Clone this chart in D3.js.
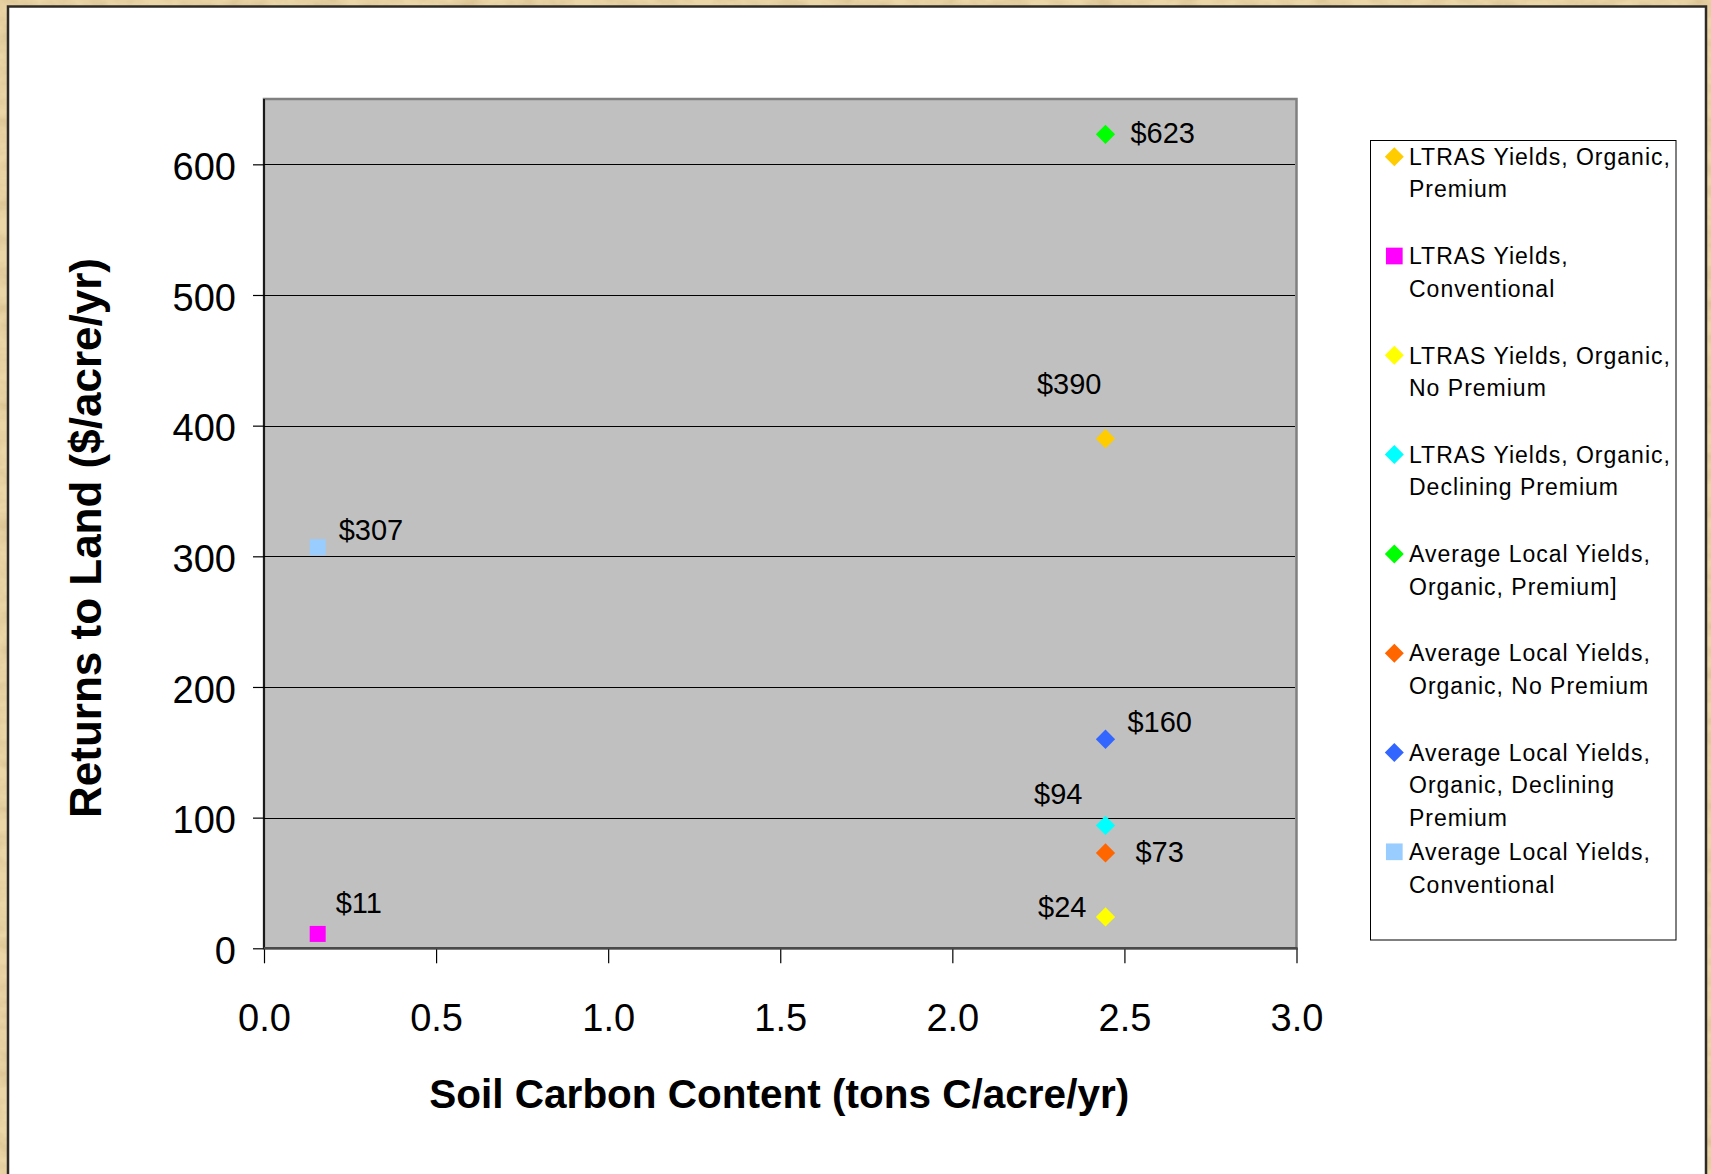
<!DOCTYPE html>
<html>
<head>
<meta charset="utf-8">
<script src="https://cdn.jsdelivr.net/npm/d3@7"></script>
<style>
  html, body { margin: 0; padding: 0; background: #e9d6ab; overflow: hidden; }
  svg { display: block; }
  text { font-family: "Liberation Sans", Arial, sans-serif; fill: #000; }
</style>
</head>
<body>
<svg id="chart" width="1711" height="1174"></svg>
<script>
// Scenario names (legend order), split into the lines shown in the legend
const seriesLines = [
  ["LTRAS Yields, Organic,", "Premium"],
  ["LTRAS Yields,", "Conventional"],
  ["LTRAS Yields, Organic,", "No Premium"],
  ["LTRAS Yields, Organic,", "Declining Premium"],
  ["Average Local Yields,", "Organic, Premium]"],
  ["Average Local Yields,", "Organic, No Premium"],
  ["Average Local Yields,", "Organic, Declining", "Premium"],
  ["Average Local Yields,", "Conventional"]
];
// Soil carbon content (tons C/acre/yr)
const carbonValues = [2.445, 0.156, 2.445, 2.445, 2.445, 2.445, 2.445, 0.156];
// Returns to land ($/acre/yr)
const returnValues = [390, 11, 24, 94, 623, 73, 160, 307];
const markerShapes = ["diamond", "square", "diamond", "diamond", "diamond", "diamond", "diamond", "square"];
const markerColors = ["#FFCC00", "#FF00FF", "#FFFF00", "#00FFFF", "#00FF00", "#FF6600", "#3366FF", "#99CCFF"];
const xTickValues = [0, 0.5, 1.0, 1.5, 2.0, 2.5, 3.0];
const yTickValues = [0, 100, 200, 300, 400, 500, 600];

// Where each data label sits relative to its marker
const labelPlacement = [
  { anchor: "end",   dx: -4,  dy: -55 },
  { anchor: "start", dx: 18,  dy: -31 },
  { anchor: "end",   dx: -19, dy: -10 },
  { anchor: "end",   dx: -23, dy: -32 },
  { anchor: "start", dx: 25,  dy: -2 },
  { anchor: "start", dx: 30,  dy: -1 },
  { anchor: "start", dx: 22,  dy: -18 },
  { anchor: "start", dx: 21,  dy: -18 }
];

const svg = d3.select("#chart");
const W = 1711, H = 1174;

// Parchment backdrop
const defs = svg.append("defs");
const f = defs.append("filter").attr("id", "parchment")
  .attr("x", 0).attr("y", 0).attr("width", "100%").attr("height", "100%");
f.append("feTurbulence").attr("type", "fractalNoise")
  .attr("baseFrequency", "0.035 0.06").attr("numOctaves", 4).attr("seed", 7).attr("result", "noise");
f.append("feColorMatrix").attr("in", "noise").attr("type", "matrix")
  .attr("values", "0 0 0 0 0.62  0 0 0 0 0.45  0 0 0 0 0.22  1.6 0 0 0 -0.6")
  .attr("result", "tint");
f.append("feComposite").attr("in", "tint").attr("in2", "SourceGraphic").attr("operator", "over");

svg.append("rect").attr("width", W).attr("height", H).attr("fill", "#ebd6a8");
svg.append("rect").attr("width", W).attr("height", H).attr("fill", "#ebd6a8")
  .attr("filter", "url(#parchment)").attr("opacity", 0.7);

// White chart sheet
svg.append("rect")
  .attr("x", 8).attr("y", 6.5).attr("width", 1698).attr("height", 1220)
  .attr("fill", "#ffffff").attr("stroke", "#2e2b26").attr("stroke-width", 2.5);

// Plot area
const plot = { left: 264, right: 1296.5, top: 99, bottom: 948.3 };
const x = d3.scaleLinear().domain([0, 3]).range([plot.left, plot.right]);
const y = d3.scaleLinear().domain([0, 650]).range([plot.bottom, plot.top]);

svg.append("rect")
  .attr("x", plot.left).attr("y", plot.top)
  .attr("width", plot.right - plot.left).attr("height", plot.bottom - plot.top)
  .attr("fill", "#C0C0C0").attr("stroke", "#808080").attr("stroke-width", 2.5);

// Horizontal gridlines
svg.append("g").selectAll("line")
  .data(yTickValues.filter(v => v > 0))
  .join("line")
  .attr("x1", plot.left).attr("x2", plot.right - 1.5)
  .attr("y1", d => Math.round(y(d)) + 0.5).attr("y2", d => Math.round(y(d)) + 0.5)
  .attr("stroke", "#000").attr("stroke-width", 1.2);

// Y axis
const yAxis = svg.append("g").attr("transform", `translate(${plot.left},0)`)
  .call(d3.axisLeft(y).tickValues(yTickValues).tickFormat(d3.format("d")).tickSize(11).tickPadding(17));
yAxis.select(".domain").remove();
yAxis.selectAll(".tick line").attr("stroke", "#000").attr("stroke-width", 1.2);
yAxis.selectAll(".tick text").attr("font-size", 38).attr("dy", "0.4em")
  .style("font-family", '"Liberation Sans", Arial, sans-serif');

// X axis
const xAxis = svg.append("g").attr("transform", `translate(0,${plot.bottom})`)
  .call(d3.axisBottom(x).tickValues(xTickValues).tickFormat(d3.format(".1f")).tickSize(15).tickPadding(68));
xAxis.select(".domain").remove();
xAxis.selectAll(".tick line").attr("stroke", "#000").attr("stroke-width", 1.2);
xAxis.selectAll(".tick text").attr("font-size", 38).attr("dy", "0")
  .style("font-family", '"Liberation Sans", Arial, sans-serif');

// Axis lines
svg.append("line").attr("x1", plot.left).attr("x2", plot.left)
  .attr("y1", plot.top).attr("y2", plot.bottom)
  .attr("stroke", "#000").attr("stroke-width", 1.6);
svg.append("line").attr("x1", plot.left).attr("x2", plot.right + 1)
  .attr("y1", plot.bottom).attr("y2", plot.bottom)
  .attr("stroke", "#4a4a4a").attr("stroke-width", 2.6);

// Markers
function markerPath(shape, legend) {
  if (shape === "diamond") return d3.symbol(d3.symbolSquare, legend ? 181 : 186)();
  return d3.symbol(d3.symbolSquare, legend ? 279 : 256)();
}
const points = carbonValues.map((c, i) => ({ i, c, r: returnValues[i] }));

svg.append("g").selectAll("path")
  .data(points)
  .join("path")
  .attr("d", d => markerPath(markerShapes[d.i], false))
  .attr("transform", d => `translate(${x(d.c)},${y(d.r)})` + (markerShapes[d.i] === "diamond" ? " rotate(45)" : ""))
  .attr("fill", d => markerColors[d.i]);

// Data labels
svg.append("g").selectAll("text")
  .data(points)
  .join("text")
  .attr("x", d => x(d.c) + labelPlacement[d.i].dx)
  .attr("y", d => y(d.r) + labelPlacement[d.i].dy)
  .attr("dy", "0.36em")
  .attr("text-anchor", d => labelPlacement[d.i].anchor)
  .attr("font-size", 29)
  .text(d => "$" + d3.format("d")(d.r));

// Axis titles
svg.append("text")
  .attr("x", (plot.left + plot.right) / 2 - 1).attr("y", 1108)
  .attr("text-anchor", "middle").attr("font-size", 40.5).attr("font-weight", "bold")
  .text("Soil Carbon Content (tons C/acre/yr)");
svg.append("text")
  .attr("transform", "translate(101,538) rotate(-90)")
  .attr("text-anchor", "middle").attr("font-size", 44).attr("font-weight", "bold")
  .text("Returns to Land ($/acre/yr)");

// Legend
const lg = svg.append("g");
lg.append("rect")
  .attr("x", 1370.5).attr("y", 140.5).attr("width", 305.5).attr("height", 799.5)
  .attr("fill", "#fff").attr("stroke", "#000").attr("stroke-width", 1);
const entry = lg.selectAll("g.entry")
  .data(seriesLines.map((lines, i) => ({ lines, i })))
  .join("g").attr("class", "entry")
  .attr("transform", d => `translate(0,${156.7 + d.i * 99.3})`);
entry.append("path")
  .attr("d", d => markerPath(markerShapes[d.i], true))
  .attr("transform", d => "translate(1394.3,0)" + (markerShapes[d.i] === "diamond" ? " rotate(45)" : ""))
  .attr("fill", d => markerColors[d.i]);
entry.each(function (d) {
  const t = d3.select(this).append("text")
    .attr("x", 1409).attr("font-size", 23).attr("letter-spacing", 1.0);
  t.selectAll("tspan").data(d.lines).join("tspan")
    .attr("x", 1409).attr("y", (l, k) => k * 32.5).attr("dy", "0.36em")
    .text(l => l);
});
</script>
</body>
</html>
